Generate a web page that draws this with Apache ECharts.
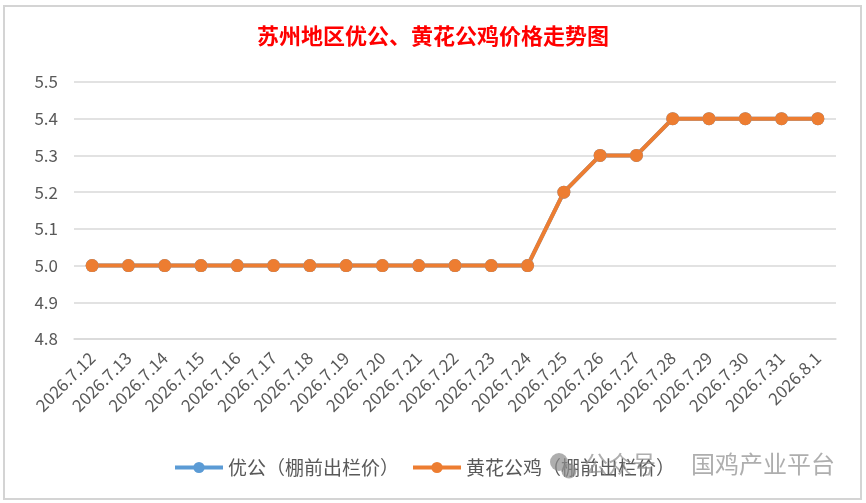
<!DOCTYPE html>
<html>
<head>
<meta charset="utf-8">
<script src="https://cdn.jsdelivr.net/npm/echarts@6/dist/echarts.min.js"></script>
<style>
	html, body { margin: 0; padding: 0; background: #fff; }
	#main { width: 866px; height: 503px; }
</style>
</head>
<body>
<div id="main"></div>
<script>
// chart data
const title = '苏州地区优公、黄花公鸡价格走势图'
const dates = [
	'2026.7.12', '2026.7.13', '2026.7.14', '2026.7.15', '2026.7.16', '2026.7.17', '2026.7.18',
	'2026.7.19', '2026.7.20', '2026.7.21', '2026.7.22', '2026.7.23', '2026.7.24', '2026.7.25',
	'2026.7.26', '2026.7.27', '2026.7.28', '2026.7.29', '2026.7.30', '2026.7.31', '2026.8.1',
]
const youGong = [5.0, 5.0, 5.0, 5.0, 5.0, 5.0, 5.0, 5.0, 5.0, 5.0, 5.0, 5.0, 5.0, 5.2, 5.3, 5.3, 5.4, 5.4, 5.4, 5.4, 5.4]
const huangHua = [5.0, 5.0, 5.0, 5.0, 5.0, 5.0, 5.0, 5.0, 5.0, 5.0, 5.0, 5.0, 5.0, 5.2, 5.3, 5.3, 5.4, 5.4, 5.4, 5.4, 5.4]
const seriesNames = ['优公（棚前出栏价）', '黄花公鸡（棚前出栏价）']
const watermarkA = '公众号'
const watermarkB = '国鸡产业平台'

const font = '"Noto Sans CJK SC", "Noto Sans", sans-serif'
const chart = echarts.init(document.getElementById('main'))

const lineSeries = (name, data, color) => ({
	name,
	type: 'line',
	data,
	symbol: 'circle',
	symbolSize: 13,
	lineStyle: { width: 4, color },
	itemStyle: { color },
	animation: false,
})

const wmColor = 'rgba(140,140,140,0.7)'

chart.setOption({
	animation: false,
	textStyle: { fontFamily: font },
	title: {
		text: title,
		left: 'center',
		top: 20,
		textStyle: { color: '#ff0000', fontSize: 22, fontWeight: 'bold', fontFamily: font },
	},
	grid: { left: 74, right: 30, top: 82, bottom: 164, containLabel: false },
	xAxis: {
		type: 'category',
		data: dates,
		boundaryGap: true,
		axisLine: { show: true, lineStyle: { color: '#d9d9d9', width: 1.5 } },
		axisTick: { show: false },
		axisLabel: { rotate: 45, interval: 0, color: '#595959', fontSize: 17, margin: 16 },
	},
	yAxis: {
		type: 'value',
		min: 4.8,
		max: 5.5,
		interval: 0.1,
		axisLine: { show: false },
		axisTick: { show: false },
		axisLabel: { color: '#595959', fontSize: 17, margin: 16, formatter: v => v.toFixed(1) },
		splitLine: { lineStyle: { color: '#d9d9d9', width: 1.5 } },
	},
	legend: {
		data: seriesNames,
		left: 168,
		top: 453,
		itemWidth: 48,
		itemHeight: 14,
		itemGap: 12,
		lineStyle: { width: 4 },
		textStyle: { color: '#595959', fontSize: 19 },
	},
	graphic: [
		{
			type: 'rect',
			shape: { x: 4, y: 6, width: 857, height: 493 },
			style: { fill: 'none', stroke: '#d4d4d4', lineWidth: 2 },
			silent: true,
		},
		{
			type: 'circle',
			shape: { cx: 559, cy: 462, r: 9 },
			style: { fill: wmColor },
			silent: true,
			z: 100,
		},
		{
			type: 'circle',
			shape: { cx: 569, cy: 471, r: 7.5 },
			style: { fill: wmColor },
			silent: true,
			z: 101,
		},
		{
			type: 'text',
			left: 584,
			top: 452,
			style: { text: watermarkA, fill: wmColor, fontSize: 24, fontFamily: font },
			silent: true,
			z: 100,
		},
		{
			type: 'text',
			left: 691,
			top: 452,
			style: { text: watermarkB, fill: wmColor, fontSize: 24, fontFamily: font },
			silent: true,
			z: 100,
		},
	],
	series: [
		lineSeries(seriesNames[0], youGong, '#5b9bd5'),
		lineSeries(seriesNames[1], huangHua, '#ed7d31'),
	],
})
</script>
</body>
</html>
